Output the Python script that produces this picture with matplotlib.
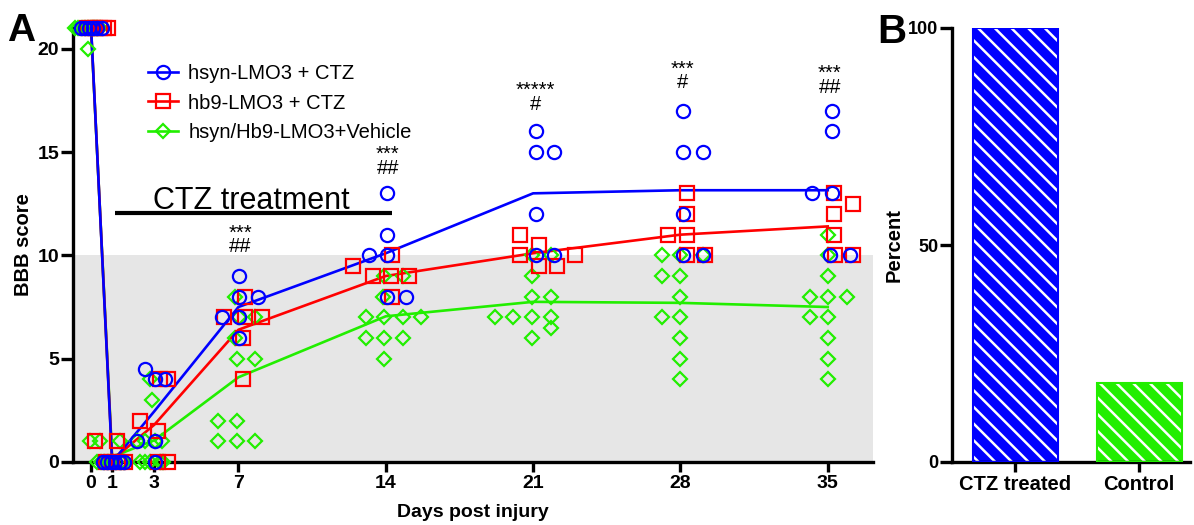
import matplotlib
matplotlib.use('Agg')
import matplotlib.pyplot as plt
from matplotlib.lines import Line2D
import numpy as np

plt.rcParams['font.family'] = ['Liberation Sans', 'DejaVu Sans']
plt.rcParams['hatch.linewidth'] = 1.8

BLUE = '#0000ff'
RED = '#ff0000'
GREEN = '#22ee00'
GRAY = '#e6e6e6'

# ---------------- data ----------------
days = [0, 1, 3, 7, 14, 21, 28, 35]
day_labels = ['0', '1', '3', '7', '14', '21', '28', '35']

blue_mean = [21, 0, 2.45, 7.5, 10.1, 13.0, 13.15, 13.15]
red_mean = [21, 0.1, 1.8, 6.4, 9.0, 10.1, 11.0, 11.4]
green_mean = [20.9, 0.25, 1.05, 4.1, 7.05, 7.75, 7.7, 7.5]

# individual animals (hsyn-LMO3 + CTZ)
blue_day = [0]*6 + [1]*6 + [3]*6 + [7]*6 + [14]*6 + [21]*6 + [28]*6 + [35]*6
blue_score = [21, 21, 21, 21, 21, 21,
              0, 0, 0, 0, 0, 0,
              4.5, 4, 4, 1, 1, 0,
              9, 8, 8, 7, 7, 6,
              13, 11, 10, 10, 8, 8,
              16, 15, 15, 12, 10, 10,
              17, 15, 15, 12, 10, 10,
              17, 16, 13, 13, 10, 10]
blue_jit = [-0.5, -0.3, -0.1, 0.1, 0.3, 0.5,
            -0.45, -0.25, -0.05, 0.15, 0.35, 0.55,
            -0.43, 0.05, 0.52, -0.81, 0.05, 0.05,
            0.05, 0.05, 0.95, -0.76, 0.05, 0.05,
            0.05, 0.05, -0.81, 0.05, 0.05, 0.95,
            0.14, 0.14, 1.0, 0.14, 0.14, 1.0,
            0.14, 0.14, 1.05, 0.14, 0.14, 1.05,
            0.19, 0.19, -0.76, 0.19, 0.1, 1.05]

# hb9-LMO3 + CTZ
red_day = [0]*6 + [1]*6 + [3]*6 + [7]*6 + [14]*6 + [21]*6 + [28]*6 + [35]*6
red_score = [21, 21, 21, 21, 21, 21,
             1, 1, 0, 0, 0, 0,
             4, 4, 2, 1.5, 0, 0,
             8, 7, 7, 7, 6, 4,
             10, 9.5, 9, 9, 9, 8,
             11, 10.5, 10, 10, 9.5, 9.5,
             13, 12, 11, 11, 10, 10,
             13, 12.5, 12, 11, 10, 10]
red_jit = [-0.2, 0.0, 0.2, 0.4, 0.6, 0.8,
           -0.81, 0.24, 0.62, -0.3, 0.0, 0.3,
           0.29, 0.67, -0.67, 0.19, 0.67, 0.2,
           0.33, -0.67, 0.33, 1.14, 0.24, 0.24,
           0.29, -1.57, -0.62, 0.24, 1.09, 0.29,
           -0.62, 0.29, -0.62, 2.0, 0.29, 1.14,
           0.33, 0.33, -0.57, 0.33, 0.33, 1.19,
           0.29, 1.19, 0.29, 0.29, 0.33, 1.19]

# hsyn/Hb9-LMO3 + Vehicle
green_day = [0]*11 + [1]*11 + [3]*11 + [7]*11 + [14]*11 + [21]*11 + [28]*11 + [35]*11
green_score = [21, 21, 21, 21, 21, 21, 21, 21, 21, 21, 20,
               1, 1, 1, 0, 0, 0, 0, 0, 0, 0, 0,
               4, 3, 1, 1, 1, 1, 0, 0, 0, 0, 0,
               8, 7, 7, 6, 5, 5, 2, 2, 1, 1, 1,
               9, 9, 8, 7, 7, 7, 7, 6, 6, 6, 5,
               10, 10, 9, 8, 8, 7, 7, 7, 7, 6.5, 6,
               10, 10, 10, 9, 9, 8, 7, 7, 6, 5, 4,
               11, 10, 9, 8, 8, 8, 7, 7, 6, 5, 4]
green_jit = [-0.75, -0.6, -0.45, -0.3, -0.15, 0.0, 0.1, 0.2, 0.3, 0.4, -0.14,
             -1.04, -0.57, 0.38, -0.71, -0.4, -0.2, 0.0, 0.2, 0.4, 0.55, -0.55,
             -0.19, -0.1, 0.38, -0.81, -0.43, 0.05, -0.67, -0.43, -0.19, 0.29, 0.43,
             -0.14, 0.05, 0.81, -0.14, -0.05, 0.81, -0.95, -0.05, -0.95, -0.05, 0.81,
             -0.1, 0.81, -0.14, -0.95, -0.1, 0.81, 1.66, -0.95, -0.1, 0.81, -0.1,
             -0.05, 0.86, -0.05, -0.05, 0.86, -1.81, -0.95, -0.05, 0.86, 0.86, -0.05,
             -0.86, 0.0, 1.05, -0.86, 0.0, 0.0, -0.86, 0.0, 0.0, 0.0, 0.0,
             0.0, 0.0, 0.0, -0.86, 0.0, 0.9, -0.86, 0.0, 0.0, 0.0, 0.0]

series_labels = ['hsyn-LMO3 + CTZ', 'hb9-LMO3 + CTZ', 'hsyn/Hb9-LMO3+Vehicle']

sig_days = [7, 14, 21, 28, 35]
star_text = ['***', '***', '*****', '***', '***']
hash_text = ['##', '##', '#', '#', '##']

bar_groups = ['CTZ treated', 'Control']
bar_percent = [100, 18.2]

# ---------------- figure ----------------
fig = plt.figure(figsize=(11.94, 5.25), dpi=100)
axA = fig.add_axes([73/1194, 63/525, 800/1194, 434/525])
axB = fig.add_axes([952/1194, 63/525, 238/1194, 434/525])

SPW = 2.4
for ax in (axA, axB):
    for s in ('top', 'right'):
        ax.spines[s].set_visible(False)
    for s in ('left', 'bottom'):
        ax.spines[s].set_linewidth(SPW)
    ax.tick_params(width=SPW, length=7, labelsize=14, pad=2)

# Panel A
axA.axhspan(0, 10, color=GRAY, zorder=0, lw=0)
axA.set_xlim(-0.86, 37.15)
axA.set_ylim(0, 21)

ms = 9.5
mew = 1.6
axA.plot(days, green_mean, color=GREEN, lw=1.9, zorder=3)
axA.plot(days, red_mean, color=RED, lw=1.9, zorder=4)
axA.plot(days, blue_mean, color=BLUE, lw=1.9, zorder=5)

gx = np.array(green_day) + np.array(green_jit)
rx = np.array(red_day) + np.array(red_jit)
bx = np.array(blue_day) + np.array(blue_jit)
axA.plot(gx, green_score, ls='none', marker='D', ms=6.8, mfc='none', mec=GREEN, mew=mew, zorder=6, clip_on=False)
axA.plot(rx, red_score, ls='none', marker='s', ms=ms, mfc='none', mec=RED, mew=mew, zorder=7, clip_on=False)
axA.plot(bx, blue_score, ls='none', marker='o', ms=ms, mfc='none', mec=BLUE, mew=mew, zorder=8, clip_on=False)

axA.set_xticks(days)
axA.set_xticklabels(day_labels, fontweight='bold', fontsize=14)
axA.set_yticks([0, 5, 10, 15, 20])
axA.set_yticklabels(['0', '5', '10', '15', '20'], fontweight='bold', fontsize=14)
axA.tick_params(axis='y', length=9, pad=1)
axA.set_xlabel('Days post injury', fontweight='bold', fontsize=14, labelpad=9)
axA.set_ylabel('BBB score', fontweight='bold', fontsize=14.5, labelpad=3)

# CTZ treatment bar
axA.plot([1.14, 14.3], [12.05, 12.05], color='black', lw=3, solid_capstyle='butt', zorder=9)
axA.text(7.6, 12.25, 'CTZ treatment', fontsize=22, ha='center', va='baseline', zorder=9)

# significance (stars over hashes, one text block per day)
sig_bottom = [9.98, 13.76, 16.86, 17.92, 17.68]
for d, st, hs, yb in zip(sig_days, star_text, hash_text, sig_bottom):
    axA.text(d + 0.1, yb, st + '\n' + hs, fontsize=14.5, ha='center', va='bottom',
             multialignment='center', linespacing=0.62, zorder=9)

handles = [
    Line2D([], [], color=BLUE, lw=1.9, marker='o', ms=ms, mfc='none', mec=BLUE, mew=mew),
    Line2D([], [], color=RED, lw=1.9, marker='s', ms=ms, mfc='none', mec=RED, mew=mew),
    Line2D([], [], color=GREEN, lw=1.9, marker='D', ms=6.8, mfc='none', mec=GREEN, mew=mew),
]
axA.legend(handles, series_labels, loc='upper left', bbox_to_anchor=(138/1194, 1 - 54/525),
           bbox_transform=fig.transFigure, frameon=False, fontsize=14.5, borderpad=0,
           handlelength=1.5, handletextpad=0.5, labelspacing=0.52)

# Panel B
xb = np.arange(len(bar_groups))
bar_cols = [BLUE, GREEN]
axB.bar(xb, bar_percent, width=0.685, color=bar_cols, edgecolor='white', hatch='\\\\', lw=0, zorder=2)
axB.bar(xb, bar_percent, width=0.685, fill=False, edgecolor=bar_cols, lw=1.5, zorder=3)
axB.set_xlim(-0.51, 1.41)
axB.set_ylim(0, 100)
axB.set_yticks([0, 50, 100])
axB.set_yticklabels(['0', '50', '100'], fontweight='bold', fontsize=13)
axB.tick_params(axis='y', length=9, pad=1)
axB.set_xticks(xb)
axB.set_xticklabels(bar_groups, fontweight='bold', fontsize=14.5)
axB.set_ylabel('Percent', fontweight='bold', fontsize=14.5, labelpad=3)

fig.text(7/1194, 1 - 41/525, 'A', fontsize=28, fontweight='bold', va='baseline', ha='left')
fig.text(877/1194, 1 - 43/525, 'B', fontsize=29, fontweight='bold', va='baseline', ha='left')

fig.savefig('out.png', dpi=100)
